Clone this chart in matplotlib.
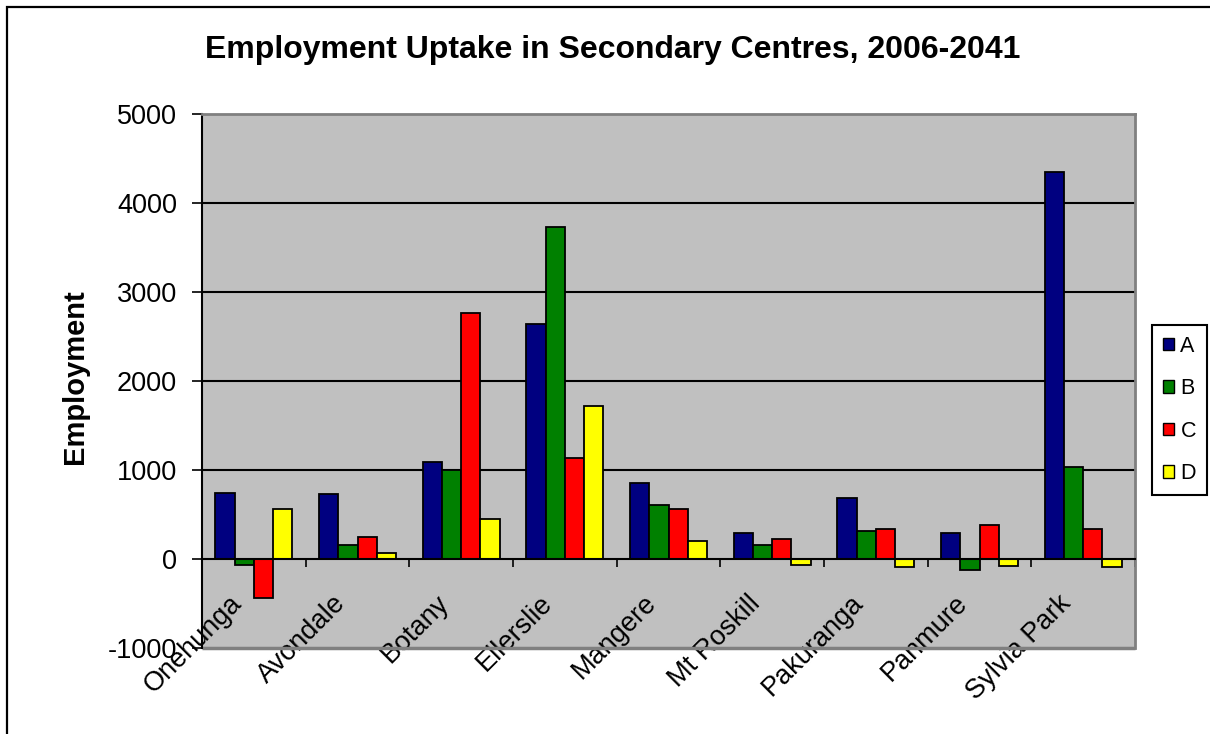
import numpy as np
import matplotlib
matplotlib.use("Agg")
import matplotlib.pyplot as plt
from matplotlib.patches import Rectangle, Patch
from matplotlib.transforms import ScaledTranslation

plt.rcParams['font.family'] = ['Liberation Sans', 'DejaVu Sans']

centres = ["Onehunga", "Avondale", "Botany", "Ellerslie", "Mangere",
           "Mt Roskill", "Pakuranga", "Panmure", "Sylvia Park"]
series_names = ["A", "B", "C", "D"]
A = [745, 725, 1085, 2645, 855, 295, 680, 295, 4345]
B = [-70, 155, 995, 3730, 610, 155, 315, -120, 1035]
C = [-435, 245, 2760, 1130, 565, 225, 335, 380, 335]
D = [560, 65, 450, 1715, 200, -70, -95, -75, -95]
colors = ["#000080", "#008000", "#FF0000", "#FFFF00"]
yticks = [-1000, 0, 1000, 2000, 3000, 4000, 5000]

W, H = 1210, 734
fig = plt.figure(figsize=(W / 100, H / 100), dpi=100)
fig.patch.set_facecolor("white")

# outer chart border
fig.patches.append(Rectangle((7 / W, -0.05), 1.2, 1 - 7 / H + 0.05,
                             transform=fig.transFigure, fill=False,
                             edgecolor="black", lw=1.6, zorder=0))

L, R, T, Bm = 202, 1135, 114, 648
ax = fig.add_axes([L / W, 1 - Bm / H, (R - L) / W, (Bm - T) / H])
ax.set_facecolor("#C0C0C0")

x = np.arange(len(centres))
w = 0.186
for i, (vals, c) in enumerate(zip([A, B, C, D], colors)):
    ax.bar(x + (i - 1.5) * w, vals, width=w, color=c, edgecolor="black",
           linewidth=1.3, zorder=3, label=series_names[i])

ax.set_xlim(-0.5, len(centres) - 0.5)
ax.set_ylim(-1000, 5000)
ax.set_yticks(yticks)
ax.set_yticklabels([str(v) for v in yticks], fontsize=19.5)
ax.tick_params(axis='y', direction='out', length=7, width=1.2, pad=11)

ax.yaxis.grid(True, color="black", linewidth=1.5, zorder=1)
ax.set_axisbelow(True)
gl = ax.get_ygridlines()
gl[0].set_visible(False)
gl[-1].set_visible(False)
gl[1].set_visible(False)

# spines
for s in ["top", "right"]:
    ax.spines[s].set_color("#808080")
    ax.spines[s].set_linewidth(2)
ax.spines["left"].set_color("black")
ax.spines["left"].set_linewidth(1.5)
ax.spines["bottom"].set_position(("data", 0))
ax.spines["bottom"].set_color("black")
ax.spines["bottom"].set_linewidth(1.5)
ax.spines["bottom"].set_zorder(4)
ax.add_patch(Rectangle((0, 0), 1, 0.0, transform=ax.transAxes, fill=False,
                       edgecolor="#808080", lw=2.5, clip_on=False, zorder=2))

ax.set_xticks(np.arange(-0.5, len(centres), 1))
ax.set_xticklabels([])
ax.tick_params(axis='x', which='major', direction='out', length=6, width=1.2)
ax.set_xticks(x, minor=True)
ax.set_xticklabels(centres, minor=True, fontsize=19.5, rotation=45,
                   ha='right', va='center', rotation_mode='anchor')
ax.tick_params(axis='x', which='minor', length=0, pad=29)
off = ScaledTranslation(-16 / 100, 0, fig.dpi_scale_trans)
for lab in ax.get_xticklabels(minor=True):
    lab.set_transform(lab.get_transform() + off)

fig.text(613 / W, 1 - 50 / H, "Employment Uptake in Secondary Centres, 2006-2041",
         ha='center', va='center', fontsize=23, fontweight='bold')
fig.text(75 / W, 1 - 377 / H, "Employment", rotation=90, ha='center',
         va='center', fontsize=21, fontweight='bold')

handles = [Patch(facecolor=c, edgecolor="black", linewidth=1.0) for c in colors]
leg = fig.legend(handles, series_names, loc='upper left',
                 bbox_to_anchor=(1152 / W, 1 - 325 / H), borderaxespad=0,
                 fontsize=15.5, frameon=True, fancybox=False,
                 edgecolor="black", framealpha=1, handlelength=0.52,
                 handleheight=0.52, handletextpad=0.3, labelspacing=1.0,
                 borderpad=0.5)
leg.get_frame().set_linewidth(1.5)

fig.savefig("out.png", dpi=100)
